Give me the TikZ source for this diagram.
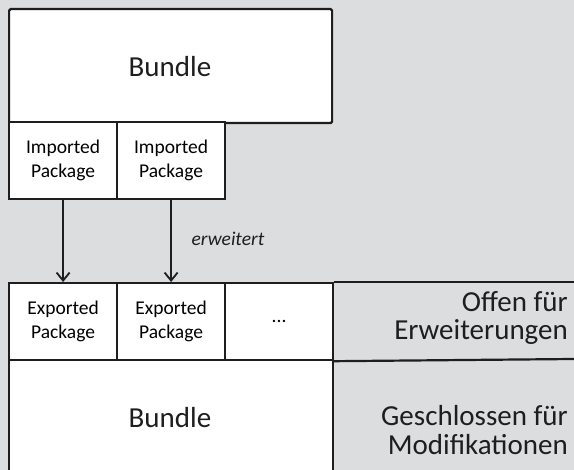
\documentclass[tikz,border=0pt]{standalone}
\usepackage{fontspec}
\setmainfont{Carlito}
\usetikzlibrary{arrows.meta}
\definecolor{bggray}{RGB}{220,221,223}
\definecolor{ink}{RGB}{30,30,30}
\begin{document}
\begin{tikzpicture}[x=1pt,y=-1pt,
  frame/.style={draw=ink, line width=2.2pt, fill=white},
  cell/.style={frame, minimum width=108pt, minimum height=77pt, inner sep=0pt,
    align=center, font=\fontsize{19.5}{23.5}\selectfont, anchor=north west},
  big/.style={frame, inner sep=0pt, anchor=north west},
  title/.style={text=ink, font=\fontsize{29}{32}\selectfont},
  side/.style={align=right, anchor=east, inner sep=0pt, text=ink,
    font=\fontsize{29}{28.5}\selectfont},
  link/.style={draw=ink, line width=2.2pt, -{Straight Barb[length=8pt,width=13pt,line width=1.8pt]}}
]
\fill[bggray] (0,0) rectangle (574,470);
\useasboundingbox (0,0) rectangle (574,470);

% upper bundle with its imported packages
\node[big, minimum width=323pt, minimum height=114pt, rounded corners=1.5pt] (topb) at (8,8) {};
\node[title] (topbl) at (170,67) {Bundle};
\node[cell] (imp1) at (8,121) {Imported\\Package};
\node[cell] (imp2) at (116,121) {Imported\\Package};

% lower bundle with its exported packages
\node[big, minimum width=324pt, minimum height=120pt] (botb) at (8,359) {};
\node[title] (botbl) at (170,418) {Bundle};
\node[cell] (exp1) at (8,282) {Exported\\Package};
\node[cell] (exp2) at (116,282) {Exported\\Package};
\node[cell] (exp3) at (224,282) {...};

% dependency arrows
\draw[link] (imp1.south) -- (exp1.north);
\draw[link] (imp2.south) -- (exp2.north);
\node[font=\itshape\fontsize{19.5}{23}\selectfont, text=ink] (ext) at (228,239) {erweitert};

% side annotations
\coordinate (rt) at (574,282);
\coordinate (rb) at (574,359);
\draw[ink, line width=2.2pt] (exp3.north east) -- (rt);
\draw[ink, line width=2.2pt] (exp3.south east) -- (rb);
\node[side] (open) at (568,318) {Offen für\\Erweiterungen};
\node[side] (closed) at (568,430) {Geschlossen für\\Modifikationen};
\end{tikzpicture}
\end{document}
